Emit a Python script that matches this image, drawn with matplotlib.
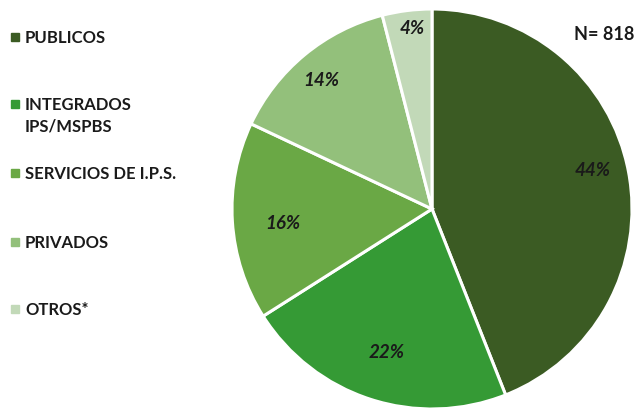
import matplotlib.pyplot as plt
from matplotlib.patches import Rectangle

plt.rcParams['font.family'] = ['Lato', 'DejaVu Sans']

labels = [['PUBLICOS'], ['INTEGRADOS', 'IPS/MSPBS'], ['SERVICIOS DE I.P.S.'], ['PRIVADOS'], ['OTROS*']]
values = [44, 22, 16, 14, 4]
colors = ['#3b5b23', '#359a35', '#6aa845', '#93c07b', '#c2d9b8']
legend_y = [38, 105, 174, 243, 310]  # pixel rows of legend entries
total_n = 818

W, H = 641, 410
fig = plt.figure(figsize=(W / 100, H / 100), dpi=100)
ax = fig.add_axes([232/W, 0, 400/W, 400/H])

wedges, texts, autotexts = ax.pie(
    values, colors=colors, startangle=90, counterclock=False,
    autopct='%1.0f%%', pctdistance=0.72,
    wedgeprops=dict(edgecolor='white', linewidth=2.2),
    textprops=dict(fontsize=13.5, fontweight='bold', fontstyle='italic', color='#1a1a1a'))
ax.set_xlim(-1, 1)
ax.set_ylim(-1, 1)
ax.set_aspect('equal')

# label placement as in the reference
label_pos = [(0.805, 0.195), (-0.225, -0.715), (-0.745, -0.07), (-0.555, 0.645), (-0.1, 0.91)]
for t, p in zip(autotexts, label_pos):
    t.set_position(p)

fig.text(574/W, 1 - 35/H, 'N= ' + str(total_n), fontsize=13, fontweight='bold',
         color='#1a1a1a', ha='left', va='center')

for lines, col, y in zip(labels, colors, legend_y):
    fig.patches.append(Rectangle((11/W, 1 - (y + 4)/H), 8/W, 8/H,
                                 transform=fig.transFigure, color=col))
    for i, line in enumerate(lines):
        fig.text(25/W, 1 - (y + 22 * i)/H, line, fontsize=12, fontweight='bold',
                 color='#1a1a1a', ha='left', va='center')

fig.savefig('out.png', dpi=100)
